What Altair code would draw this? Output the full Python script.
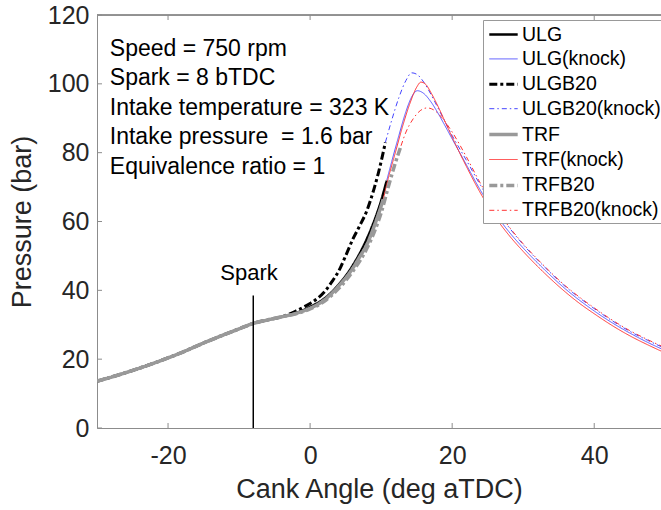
import altair as alt
import pandas as pd

FONT = "Liberation Sans"
AXC = "#8c8c8c"
TXC = "#262626"

# ---- data ----
comp_angle = [-30, -27, -24, -21, -18, -15, -12, -10, -8, -6, -4]
comp_p = [13.6, 15.4, 17.4, 19.6, 22.0, 24.7, 27.2, 28.8, 30.4, 31.4, 32.3]

ulg_angle = [-2, 0, 2, 4, 6, 8, 9, 10, 10.8]
ulg_p = [33.4, 35.2, 37.6, 41.6, 47.2, 55.0, 60.0, 66.0, 72.0]

ulgb20_angle = [-2, 0, 1, 2, 3, 4, 5, 6, 7, 8, 9, 9.6, 10.6]
ulgb20_p = [34.0, 36.2, 37.6, 39.5, 42.3, 45.5, 50.0, 54.8, 58.8, 63.2, 69.5, 74.0, 83.0]

trf_angle = [-2, 0, 2, 4, 6, 7, 8, 9, 10, 10.3]
trf_p = [33.3, 34.8, 37.2, 41.2, 46.4, 49.8, 53.3, 58.5, 64.5, 66.5]

trfb20_angle = [-2, 0, 2, 4, 6, 8, 9, 10, 11, 12, 12.8]
trfb20_p = [33.2, 34.6, 36.8, 40.5, 45.5, 52.2, 56.8, 62.5, 70.0, 77.0, 82.0]

ulg_k_angle = [10.8, 11.5, 12.5, 13.5, 14.3, 15.1, 16, 17, 18, 19, 20, 22, 24, 26, 28, 30, 33, 36, 38, 40, 42.5, 45, 47.5, 50]
ulg_k_p = [72.0, 77.5, 85.0, 92.0, 96.2, 98.0, 97.2, 94.8, 91.5, 87.8, 84.0, 76.5, 69.0, 62.5, 57.0, 52.3, 46.0, 40.3, 37.0, 34.0, 30.6, 27.6, 24.9, 22.5]

ulgb20_k_angle = [10.6, 11.5, 12.5, 13.5, 14.3, 15, 16, 17, 18, 19, 20, 22, 24, 26, 28, 30, 33, 36, 38, 40, 42.5, 45, 47.5, 50]
ulgb20_k_p = [83.0, 89.5, 96.0, 101.0, 103.2, 102.8, 100.5, 97.0, 93.0, 89.0, 85.0, 77.8, 70.5, 64.0, 58.3, 53.3, 46.8, 41.0, 37.7, 34.7, 31.2, 28.1, 25.5, 23.1]

trf_k_angle = [10.3, 11, 12, 13, 14, 15, 15.6, 16.3, 17, 18, 19, 20, 22, 24, 26, 28, 30, 33, 36, 38, 40, 42.5, 45, 47.5, 50]
trf_k_p = [66.5, 72.5, 80.0, 87.5, 94.0, 99.0, 100.5, 99.8, 97.5, 93.5, 89.0, 84.5, 76.0, 68.2, 61.5, 56.0, 51.3, 45.0, 39.4, 36.1, 33.2, 29.8, 26.8, 24.2, 21.8]

trfb20_k_angle = [12.8, 13.5, 14.5, 15.5, 16.5, 17.5, 18.5, 20, 22, 24, 26, 28, 30, 33, 36, 38, 40, 42.5, 45, 47.5, 50]
trfb20_k_p = [82.0, 86.0, 89.8, 92.2, 93.0, 92.3, 90.3, 86.0, 78.8, 71.0, 64.2, 58.5, 53.5, 47.0, 41.2, 37.9, 34.9, 31.4, 28.3, 25.7, 23.3]

names = ["ULG", "ULG(knock)", "ULGB20", "ULGB20(knock)",
         "TRF", "TRF(knock)", "TRFB20", "TRFB20(knock)"]
colors = ["#000000", "#5555ff", "#000000", "#4444ff",
          "#999999", "#ff3333", "#999999", "#ff3333"]
dashes = [[1, 0], [1, 0], [8, 3, 3, 3], [5, 3, 1.5, 3],
          [1, 0], [1, 0], [8, 3, 3, 3], [5, 3, 1.5, 3]]
widths = [2.5, 1, 3, 1, 3.5, 1, 3.5, 1]

x_ticks = [-20, 0, 20, 40]
y_ticks = [0, 20, 40, 60, 80, 100, 120]

spark_angle = -8
spark_top = 38.5
spark_label = "Spark"
spark_label_pos = (-8.6, 43.0)

info_lines = ["Speed = 750 rpm", "Spark = 8 bTDC", "Intake temperature = 323 K",
              "Intake pressure \u00a0= 1.6 bar", "Equivalence ratio = 1"]
info_pos = (-28.2, 108.1)

# ---- build table ----
series_data = {
    "ULG": (comp_angle + ulg_angle, comp_p + ulg_p),
    "ULG(knock)": (ulg_k_angle, ulg_k_p),
    "ULGB20": (comp_angle + ulgb20_angle, comp_p + ulgb20_p),
    "ULGB20(knock)": (ulgb20_k_angle, ulgb20_k_p),
    "TRF": (comp_angle + trf_angle, comp_p + trf_p),
    "TRF(knock)": (trf_k_angle, trf_k_p),
    "TRFB20": (comp_angle + trfb20_angle, comp_p + trfb20_p),
    "TRFB20(knock)": (trfb20_k_angle, trfb20_k_p),
}
rows = []
for n in names:
    a, p = series_data[n]
    for i, (ai, pi) in enumerate(zip(a, p)):
        rows.append({"angle": ai, "p": pi, "series": n, "idx": i})
df = pd.DataFrame(rows)

xscale = alt.Scale(domain=[-30, 49.4], nice=False, zero=False)
yscale = alt.Scale(domain=[0, 120], nice=False)

xaxis = alt.Axis(values=x_ticks, grid=False, ticks=False, tickSize=0,
                 labelExpr="'' + datum.value",
                 domainColor=AXC, labelFontSize=25, labelFont=FONT, labelColor=TXC,
                 labelPadding=15, labelFlush=False, title="Cank Angle (deg aTDC)",
                 titleFont=FONT, titleFontSize=27, titleFontWeight="normal",
                 titleColor=TXC, titlePadding=8)
yaxis = alt.Axis(values=y_ticks, grid=False, ticks=False, tickSize=0,
                 labelExpr="'' + datum.value",
                 domainColor=AXC, labelFontSize=25, labelFont=FONT, labelColor=TXC,
                 labelPadding=8, labelFlush=False, title="Pressure (bar)",
                 titleFont=FONT, titleFontSize=27, titleFontWeight="normal",
                 titleColor=TXC, titlePadding=11)

leg = alt.Legend(orient="none", legendX=386, legendY=5, title=None,
                 symbolType="M-1.42,0H1.42", symbolSize=400,
                 labelFont=FONT, labelFontSize=19.5, labelColor="#000000",
                 labelLimit=400, padding=3, rowPadding=4.4,
                 symbolOffset=5.5, labelOffset=6.5,
                 strokeColor="#999999", fillColor="white")

layers = []
for k, n in enumerate(names):
    layers.append(
        alt.Chart(df).transform_filter(alt.datum.series == n)
        .mark_line(clip=True, interpolate="monotone")
        .encode(
            x=alt.X("angle:Q", scale=xscale, axis=xaxis),
            y=alt.Y("p:Q", scale=yscale, axis=yaxis),
            order="idx:Q",
            color=alt.Color("series:N", scale=alt.Scale(domain=names, range=colors), legend=leg),
            strokeDash=alt.StrokeDash("series:N", scale=alt.Scale(domain=names, range=dashes), legend=leg),
            strokeWidth=alt.StrokeWidth("series:N", scale=alt.Scale(type="ordinal", domain=names, range=widths), legend=leg),
        )
    )

# spark line and label
spark_df = pd.DataFrame({"a": [spark_angle], "y0": [0], "y1": [spark_top]})
spark_rule = alt.Chart(spark_df).mark_rule(color="#000000", strokeWidth=1.5).encode(
    x=alt.X("a:Q", scale=xscale, axis=xaxis),
    y=alt.Y("y0:Q", scale=yscale, axis=yaxis), y2="y1:Q")
spark_txt_df = pd.DataFrame({"a": [spark_label_pos[0]], "p": [spark_label_pos[1]], "t": [spark_label]})
spark_text = alt.Chart(spark_txt_df).mark_text(font=FONT, fontSize=22, color="#000000",
                                               align="center", baseline="alphabetic").encode(
    x=alt.X("a:Q", scale=xscale, axis=xaxis), y=alt.Y("p:Q", scale=yscale, axis=yaxis), text="t:N")

info_df = pd.DataFrame({"a": [info_pos[0]], "p": [info_pos[1]], "t": ["\n".join(info_lines)]})
info_text = alt.Chart(info_df).mark_text(font=FONT, fontSize=23, color="#000000", align="left",
                                         baseline="alphabetic", lineBreak="\n", lineHeight=29.5).encode(
    x=alt.X("a:Q", scale=xscale, axis=xaxis), y=alt.Y("p:Q", scale=yscale, axis=yaxis), text="t:N")

# inward ticks and top border
xt_df = pd.DataFrame({"v": x_ticks})
yt_df = pd.DataFrame({"v": y_ticks})
xt_bottom = alt.Chart(xt_df).mark_rule(color=AXC, strokeWidth=1).encode(
    x=alt.X("v:Q", scale=xscale, axis=xaxis), y=alt.value(413), y2=alt.value(408))
xt_top = alt.Chart(xt_df).mark_rule(color=AXC, strokeWidth=1).encode(
    x=alt.X("v:Q", scale=xscale, axis=xaxis), y=alt.value(0), y2=alt.value(5))
yt_left = alt.Chart(yt_df).mark_rule(color=AXC, strokeWidth=1).encode(
    y=alt.Y("v:Q", scale=yscale, axis=yaxis), x=alt.value(0), x2=alt.value(5))
top_border = alt.Chart(xt_df).mark_rule(color=AXC, strokeWidth=1).encode(
    x=alt.value(0), x2=alt.value(564), y=alt.value(0))

chart = alt.layer(
    *layers, xt_bottom, xt_top, yt_left, top_border,
    spark_rule, spark_text, info_text
).properties(
    width=564, height=413,
    padding={"left": 97, "top": 15, "right": 0, "bottom": 82},
    autosize=alt.AutoSizeParams(type="none"),
).configure_view(strokeWidth=0).configure(background="white")

chart.save("out.html", embed_options={"renderer": "svg", "actions": False})
